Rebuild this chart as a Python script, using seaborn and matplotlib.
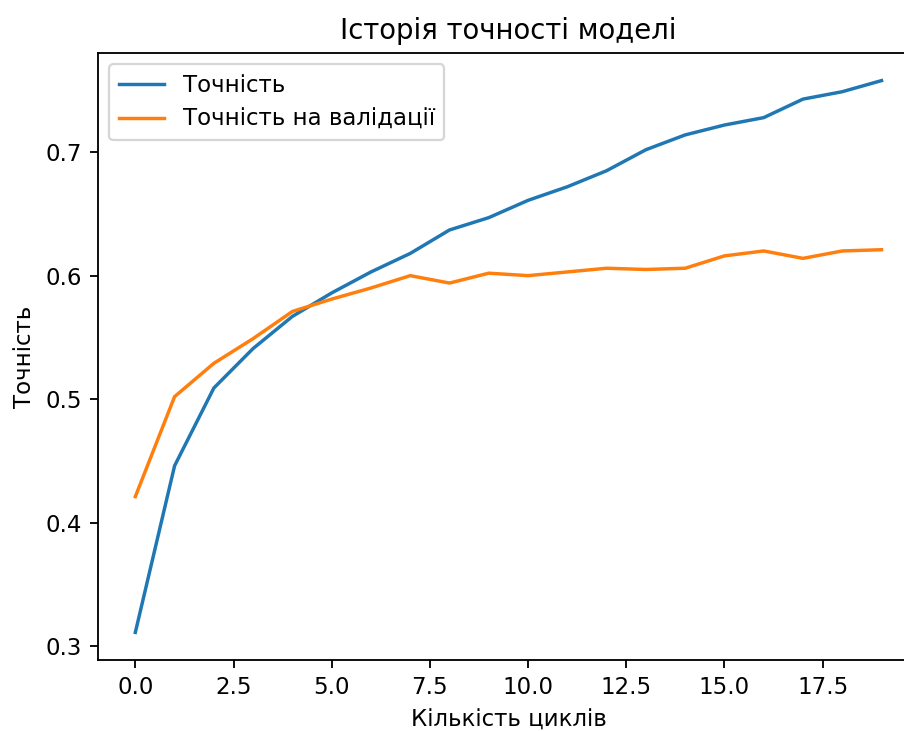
import pandas as pd
import matplotlib.pyplot as plt
import seaborn as sns

# дані з графіка (оцінено за зображенням)
epochs = list(range(20))
accuracy = [0.311, 0.446, 0.509, 0.541, 0.567, 0.586, 0.603, 0.618, 0.637, 0.647,
            0.661, 0.672, 0.685, 0.702, 0.714, 0.722, 0.728, 0.743, 0.749, 0.758]
val_accuracy = [0.421, 0.502, 0.529, 0.549, 0.571, 0.581, 0.590, 0.600, 0.594, 0.602,
                0.600, 0.603, 0.606, 0.605, 0.606, 0.616, 0.620, 0.614, 0.620, 0.621]
labels = ['Точність', 'Точність на валідації']

df = pd.DataFrame({'epoch': epochs * 2,
                   'value': accuracy + val_accuracy,
                   'series': [labels[0]] * 20 + [labels[1]] * 20})

plt.rcParams['font.family'] = ['DejaVu Sans']

# скріншот збільшеного стандартного графіка matplotlib, правий край обрізано
fig = plt.figure(figsize=(905 / 165, 731 / 165), dpi=165)
ax = fig.add_axes([0.1083, 0.0971, 0.907, 0.8304])

sns.lineplot(data=df, x='epoch', y='value', hue='series',
             palette=['#1f77b4', '#ff7f0e'], linewidth=1.5, ax=ax)

ax.set_title('Історія точності моделі')
ax.set_xlabel('Кількість циклів')
ax.set_ylabel('Точність')
ax.set_yticks([0.3, 0.4, 0.5, 0.6, 0.7])
ax.legend(loc='upper left')
# права рамка за межами кадру
ax.spines['right'].set_visible(False)

plt.savefig('out.png', dpi=165)
